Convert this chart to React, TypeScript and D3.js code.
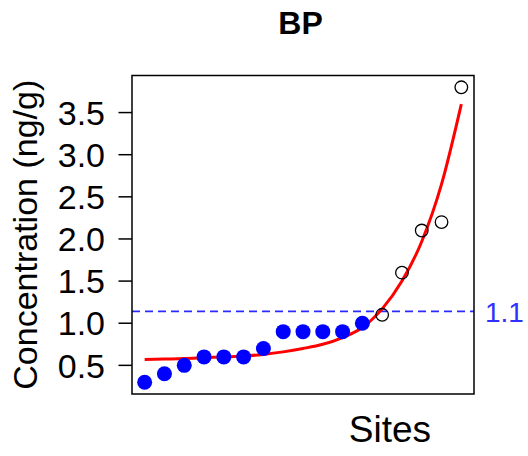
import React from "react";
import * as d3 from "d3";

const title = "BP";
const xLabel = "Sites";
const yLabel = "Concentration (ng/g)";

// concentrations sorted by site rank
const belowValues = [0.3, 0.4, 0.5, 0.6, 0.6, 0.6, 0.7, 0.9, 0.9, 0.9, 0.9, 1.0];
const aboveValues = [1.1, 1.6, 2.1, 2.2, 3.8];
// fitted curve read at each site rank 1..17
const fitValues = [0.57, 0.575, 0.58, 0.59, 0.6, 0.61, 0.63, 0.66, 0.7, 0.75, 0.83, 0.95, 1.17, 1.5, 1.97, 2.65, 3.6];
const threshold = 1.14;
const thresholdLabel = "1.1";
const yTicks = [0.5, 1.0, 1.5, 2.0, 2.5, 3.0, 3.5];

const W = 528;
const H = 456;
const box = { left: 132, right: 474, top: 75.5, bottom: 394 };
const FONT = "'Liberation Sans', Arial, Helvetica, sans-serif";

export default function App() {
  const all = [...belowValues, ...aboveValues];
  const n = all.length;
  const xr = (n - 1) * 0.04;
  const ymin = d3.min(all)!;
  const ymax = d3.max(all)!;
  const yr = (ymax - ymin) * 0.04;
  const x = d3.scaleLinear().domain([1 - xr, n + xr]).range([box.left, box.right]);
  const y = d3.scaleLinear().domain([ymin - yr, ymax + yr]).range([box.bottom, box.top]);

  const line = d3
    .line<number>()
    .x((_, i) => x(i + 1))
    .y((d) => y(d))
    .curve(d3.curveMonotoneX);

  return (
    <svg
      width={W}
      height={H}
      style={{ position: "absolute", left: 0, top: 0, background: "#fff" }}
      fontFamily={FONT}
    >
      <rect x={0} y={0} width={W} height={H} fill="#fff" />
      <text x={300.5} y={34} textAnchor="middle" fontWeight="bold" fontSize={32}>
        {title}
      </text>
      {/* y axis ticks */}
      {yTicks.map((t) => (
        <g key={t}>
          <line x1={box.left - 13.5} x2={box.left} y1={y(t)} y2={y(t)} stroke="#000" strokeWidth={1.5} />
          <text x={105} y={y(t)} dy="0.36em" textAnchor="end" fontSize={34}>
            {t.toFixed(1)}
          </text>
        </g>
      ))}
      <text
        transform={`translate(37,${(box.top + box.bottom) / 2}) rotate(-90)`}
        textAnchor="middle"
        fontSize={34}
      >
        {yLabel}
      </text>
      <text x={390} y={442} textAnchor="middle" fontSize={37}>
        {xLabel}
      </text>
      {/* threshold */}
      <line
        x1={box.left}
        x2={box.right}
        y1={y(threshold)}
        y2={y(threshold)}
        stroke="#2a2aff"
        strokeWidth={1.8}
        strokeDasharray="8,5"
      />
      <text x={485} y={y(threshold)} dy="0.36em" fontSize={28} fill="#3030ff">
        {thresholdLabel}
      </text>
      {/* fitted curve */}
      <path d={line(fitValues) || ""} fill="none" stroke="#ff0000" strokeWidth={3} />
      {/* points */}
      {belowValues.map((v, i) => (
        <circle key={"b" + i} cx={x(i + 1)} cy={y(v)} r={7.5} fill="#0000ff" />
      ))}
      {aboveValues.map((v, i) => (
        <circle
          key={"a" + i}
          cx={x(belowValues.length + i + 1)}
          cy={y(v)}
          r={6.3}
          fill="none"
          stroke="#000"
          strokeWidth={1.3}
        />
      ))}
      <rect
        x={box.left}
        y={box.top}
        width={box.right - box.left}
        height={box.bottom - box.top}
        fill="none"
        stroke="#000"
        strokeWidth={1.5}
      />
    </svg>
  );
}
